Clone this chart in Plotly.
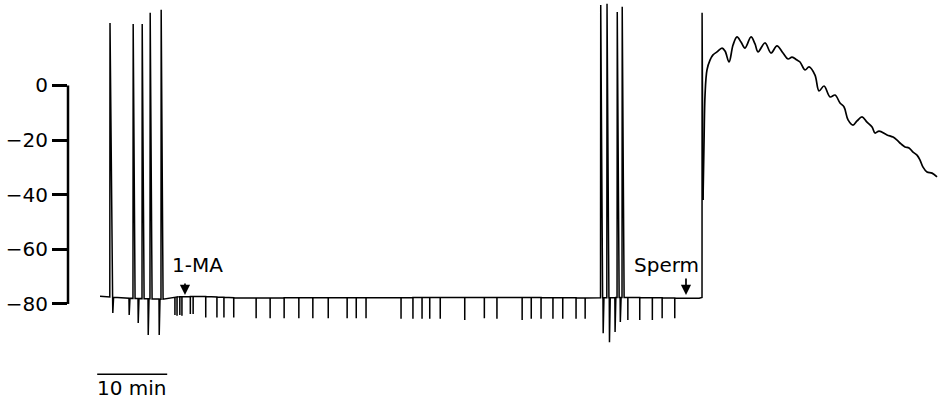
import numpy as np
import plotly.graph_objects as go

# ---- data (time in minutes, membrane potential in mV) ----
baseline_t = [0.0, 4.0, 9.5, 11.0, 14.0, 20.0, 40.0, 60.0, 70.0, 76.0, 85.6]
baseline_v = [-77.2, -77.9, -78.3, -77.4, -77.2, -77.8, -77.7, -77.6, -77.8, -77.6, -77.9]

# upward action potentials
spike_t = [1.40, 4.71, 6.00, 7.14, 8.71, 71.50, 72.40, 73.86, 74.57]
spike_peak = [22.9, 22.5, 22.5, 26.6, 27.7, 29.5, 29.9, 26.9, 28.8]

# downward deflections accompanying the spikes
dip_t = [1.80, 4.14, 5.43, 6.86, 8.43, 71.85, 72.75, 73.55, 74.30]
dip_v = [-83.3, -84.0, -87.0, -91.4, -91.4, -90.7, -94.0, -90.3, -86.6]

# small downward marks (after 1-MA)
tick_t = [10.7, 11.0, 11.4, 11.7, 12.9, 13.3, 15.1, 16.7, 17.7, 19.1, 22.3, 24.3,
          26.3, 28.4, 30.4, 32.6, 35.3, 36.6, 38.0, 43.0, 44.7, 46.0, 47.1, 48.6,
          52.1, 54.9, 56.7, 60.3, 61.6, 63.0, 64.7, 66.1, 68.0, 69.3, 75.4, 77.1,
          78.9, 80.3, 82.1]
tick_v = [-84.0, -84.3, -84.0, -84.3, -83.7, -83.7, -85.0, -85.0, -85.0, -85.0, -85.2, -85.2,
          -85.2, -85.2, -85.2, -85.2, -85.2, -85.2, -85.2, -85.4, -85.4, -85.4, -85.4, -85.4,
          -85.9, -85.2, -85.4, -85.9, -85.4, -85.4, -85.4, -85.4, -85.4, -85.4, -85.9, -85.9,
          -85.9, -85.2, -85.2]

# sperm-induced step and fertilization potential
sperm_t = 86.0
sperm_peak = 26.6
fp_t = [86.14, 86.29, 86.43, 86.71, 87.14, 87.57, 88.14, 88.86, 89.29, 89.86, 90.43,
        91.0, 91.57, 92.14, 93.0, 93.57, 94.0, 95.0, 95.86, 96.71, 97.57, 98.29, 98.86,
        99.57, 100.0, 100.71, 101.29, 102.14, 102.71, 103.43, 104.29, 105.0, 105.71,
        106.29, 106.86, 107.57, 108.14, 108.86, 109.57, 110.29, 110.71, 111.29, 112.43,
        113.29, 113.86, 114.43, 115.0, 115.57, 116.14, 116.71, 117.14, 117.57, 118.14,
        118.86, 119.57]
fp_v = [-41.9, -20.0, -3.5, 5.7, 9.3, 11.2, 12.3, 13.7, 12.6, 8.6, 14.8,
        17.8, 15.9, 13.7, 17.8, 15.2, 12.3, 15.6, 11.9, 14.5, 11.9, 9.7, 10.4,
        9.3, 8.6, 5.7, 6.8, 3.8, -2.0, -0.2, -4.2, -3.5, -6.4,
        -7.9, -12.6, -14.5, -13.0, -11.5, -13.4, -15.2, -17.4, -16.7, -18.1,
        -18.9, -20.0, -21.4, -22.5, -22.9, -24.4, -25.5, -27.3, -29.9, -31.7,
        -32.1, -33.5]

y_ticks = [0, -20, -40, -60, -80]
y_ticktext = ["0", "\u221220", "\u221240", "\u221260", "\u221280"]

scale_start = -0.4
scale_len = 10
scale_y = -105.7
scale_label = "10 min"

ma_arrow_t = 12.14
ma_label_t = 13.86
sperm_arrow_t = 83.71
sperm_label_t = 80.86
label_y = -65.6
arrow_head_y = -76.7

# ---- build trace ----
def base(t):
    return float(np.interp(t, baseline_t, baseline_v))

events = []
for t, v in zip(spike_t, spike_peak):
    events.append((t, v, 0.03, 0.30))
for t, v in zip(dip_t, dip_v):
    events.append((t, v, 0.03, 0.14))
for t, v in zip(tick_t, tick_v):
    events.append((t, v, 0.005, 0.01))
events.sort(key=lambda e: e[0])

xs = [baseline_t[0]]
ys = [base(baseline_t[0])]
for t, v, d1, d2 in events:
    xs += [t, t + d1, t + d2]
    ys += [base(t), v, base(t + d2)]
xs += [baseline_t[-1], sperm_t, sperm_t + 0.01, fp_t[0]]
ys += [baseline_v[-1], base(sperm_t) + 0.3, sperm_peak, fp_v[0]]

fig = go.Figure()
fig.add_trace(go.Scatter(x=xs, y=ys, mode="lines",
                         line=dict(color="black", width=1.5), hoverinfo="skip"))
fig.add_trace(go.Scatter(x=fp_t, y=fp_v, mode="lines",
                         line=dict(color="black", width=1.7, shape="spline", smoothing=1.0),
                         hoverinfo="skip"))

font = dict(family="DejaVu Sans", size=20, color="black")
tick_font = dict(family="DejaVu Sans", size=20, color="black")

# y axis line spanning only the labelled range
fig.add_shape(type="line", xref="paper", yref="y", x0=0, x1=0,
              y0=min(y_ticks), y1=max(y_ticks), line=dict(color="black", width=2.5))
# scale bar
fig.add_shape(type="line", xref="x", yref="y", x0=scale_start, x1=scale_start + scale_len,
              y0=scale_y, y1=scale_y, line=dict(color="black", width=1.5))

annotations = [
    dict(x=scale_start + scale_len / 2, y=scale_y - 5.1, text=scale_label, showarrow=False,
         font=font, xanchor="center", yanchor="middle"),
    dict(x=ma_label_t, y=label_y, text="1-MA", showarrow=False, font=font,
         xanchor="center", yanchor="middle"),
    dict(x=sperm_label_t, y=label_y, text="Sperm", showarrow=False, font=font,
         xanchor="center", yanchor="middle"),
    dict(x=ma_arrow_t, y=arrow_head_y, text="", showarrow=True, ax=0, ay=-13,
         arrowhead=2, arrowsize=1.2, arrowwidth=1.7, arrowcolor="black", standoff=0),
    dict(x=sperm_arrow_t, y=arrow_head_y, text="", showarrow=True, ax=0, ay=-18,
         arrowhead=2, arrowsize=1.2, arrowwidth=1.7, arrowcolor="black", standoff=0),
]

fig.update_layout(
    template="none",
    width=938, height=402,
    margin=dict(l=68, r=0, t=0, b=0, pad=0),
    paper_bgcolor="white", plot_bgcolor="white",
    showlegend=False,
    annotations=annotations,
    xaxis=dict(visible=False, range=[-4.571, 119.71], fixedrange=True),
    yaxis=dict(range=[-115.9, 31.3], tickvals=y_ticks, ticktext=y_ticktext,
               ticks="outside", ticklen=15, tickwidth=2.5, tickcolor="black",
               showline=False, showgrid=False, zeroline=False, automargin=False,
               tickfont=tick_font, fixedrange=True),
)

fig.write_html("out.html")
